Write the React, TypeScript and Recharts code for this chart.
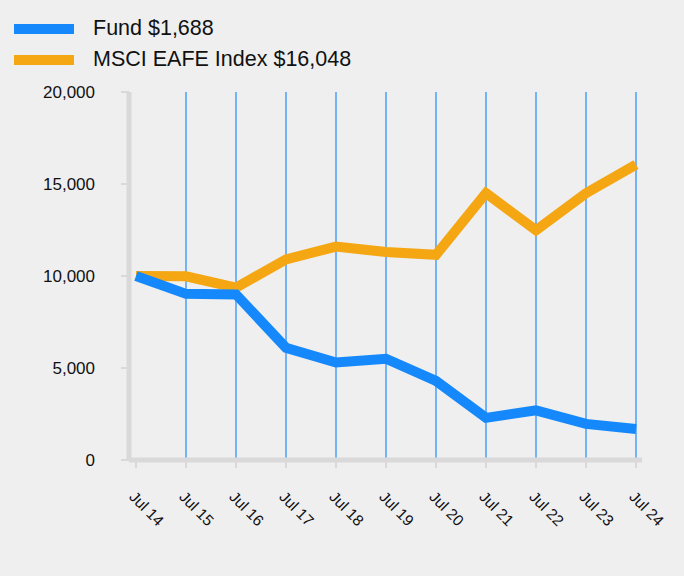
import React from 'react';
import { LineChart, Line, XAxis, YAxis, ReferenceLine } from 'recharts';

const years = ['Jul 14', 'Jul 15', 'Jul 16', 'Jul 17', 'Jul 18', 'Jul 19', 'Jul 20', 'Jul 21', 'Jul 22', 'Jul 23', 'Jul 24'];
const fund = [10000, 9030, 9000, 6100, 5300, 5500, 4300, 2290, 2700, 1960, 1688];
const msci = [10000, 9980, 9370, 10900, 11600, 11300, 11150, 14500, 12480, 14500, 16048];
const yTicks = [0, 5000, 10000, 15000, 20000];

const FUND_COLOR = '#1589fc';
const MSCI_COLOR = '#f4a613';
const GRID_COLOR = '#72b2f7';
const AXIS_COLOR = '#d9d9d9';

const data = years.map((y, i) => ({ year: y, fund: fund[i], msci: msci[i] }));

const legendItems = [
  { label: 'Fund $1,688', color: FUND_COLOR },
  { label: 'MSCI EAFE Index $16,048', color: MSCI_COLOR },
];

export default function App() {
  return (
    <div
      style={{
        position: 'absolute',
        left: 0,
        top: 0,
        width: 684,
        height: 576,
        background: '#efefef',
        fontFamily: '"Liberation Sans", Arial, sans-serif',
      }}
    >
      <div style={{ position: 'absolute', left: 14, top: 13 }}>
        {legendItems.map((item) => (
          <div key={item.label} style={{ display: 'flex', alignItems: 'center', height: 31 }}>
            <div style={{ width: 60, height: 10, background: item.color }} />
            <span style={{ marginLeft: 19, fontSize: 21.5, color: '#111' }}>{item.label}</span>
          </div>
        ))}
      </div>
      <LineChart
        width={684}
        height={576}
        data={data}
        margin={{ top: 92, right: 42, bottom: 0, left: 0 }}
      >
        {years.slice(1).map((y) => (
          <ReferenceLine key={y} x={y} stroke={GRID_COLOR} strokeWidth={2} />
        ))}
        <XAxis
          dataKey="year"
          height={116}
          padding={{ left: 7, right: 6 }}
          axisLine={{ stroke: AXIS_COLOR, strokeWidth: 5 }}
          tickLine={{ stroke: AXIS_COLOR, strokeWidth: 2 }}
          tickSize={8}
          tickMargin={22}
          interval={0}
          angle={45}
          textAnchor="start"
          tick={{ fill: '#111', fontSize: 15.5 }}
        />
        <YAxis
          width={129}
          domain={[0, 20000]}
          ticks={yTicks}
          tickFormatter={(v: number) => v.toLocaleString('en-US')}
          axisLine={{ stroke: AXIS_COLOR, strokeWidth: 5 }}
          tickLine={{ stroke: AXIS_COLOR, strokeWidth: 2 }}
          tickSize={8}
          tickMargin={26}
          tick={{ fill: '#111', fontSize: 17 }}
        />
        <Line
          type="linear"
          dataKey="msci"
          stroke={MSCI_COLOR}
          strokeWidth={10}
          dot={false}
          isAnimationActive={false}
        />
        <Line
          type="linear"
          dataKey="fund"
          stroke={FUND_COLOR}
          strokeWidth={10}
          dot={false}
          isAnimationActive={false}
        />
      </LineChart>
    </div>
  );
}
